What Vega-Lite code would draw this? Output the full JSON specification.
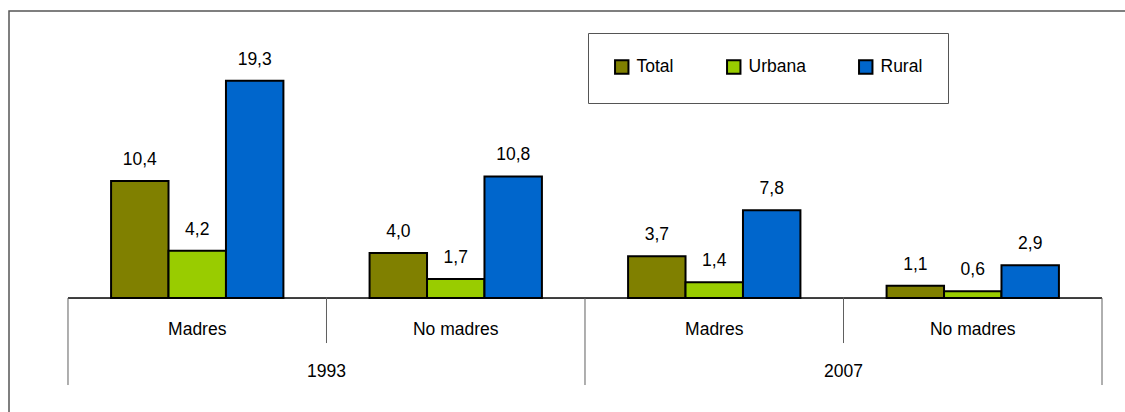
{
  "$schema": "https://vega.github.io/schema/vega-lite/v6.json",
  "autosize": {"type": "none"},
  "padding": {"left": 9, "top": 11, "right": 0, "bottom": 0},
  "width": 1140,
  "height": 420,
  "background": "white",
  "config": {
    "locale": {"number": {"decimal": ",", "thousands": ".", "grouping": [3], "currency": ["", " €"]}},
    "view": {"stroke": "#555555", "strokeWidth": 1.5},
    "font": "Liberation Sans",
    "text": {"font": "Liberation Sans", "fontSize": 17.5, "color": "black"}
  },
  "data": {
    "values": [
      {"year": "1993", "madre": "Madres", "grp": "1993 Madres", "serie": "Total", "value": 10.4},
      {"year": "1993", "madre": "Madres", "grp": "1993 Madres", "serie": "Urbana", "value": 4.2},
      {"year": "1993", "madre": "Madres", "grp": "1993 Madres", "serie": "Rural", "value": 19.3},
      {"year": "1993", "madre": "No madres", "grp": "1993 No madres", "serie": "Total", "value": 4.0},
      {"year": "1993", "madre": "No madres", "grp": "1993 No madres", "serie": "Urbana", "value": 1.7},
      {"year": "1993", "madre": "No madres", "grp": "1993 No madres", "serie": "Rural", "value": 10.8},
      {"year": "2007", "madre": "Madres", "grp": "2007 Madres", "serie": "Total", "value": 3.7},
      {"year": "2007", "madre": "Madres", "grp": "2007 Madres", "serie": "Urbana", "value": 1.4},
      {"year": "2007", "madre": "Madres", "grp": "2007 Madres", "serie": "Rural", "value": 7.8},
      {"year": "2007", "madre": "No madres", "grp": "2007 No madres", "serie": "Total", "value": 1.1},
      {"year": "2007", "madre": "No madres", "grp": "2007 No madres", "serie": "Urbana", "value": 0.6},
      {"year": "2007", "madre": "No madres", "grp": "2007 No madres", "serie": "Rural", "value": 2.9}
    ]
  },
  "encoding": {
    "x": {
      "field": "grp", "type": "nominal",
      "sort": ["1993 Madres", "1993 No madres", "2007 Madres", "2007 No madres"],
      "scale": {"paddingInner": 0, "paddingOuter": 0.205, "align": 0.5566},
      "axis": null
    }
  },
  "layer": [
    {
      "mark": {"type": "bar", "stroke": "black", "strokeWidth": 2},
      "encoding": {
        "xOffset": {"field": "serie", "type": "nominal", "sort": ["Total", "Urbana", "Rural"], "scale": {"paddingInner": 0, "paddingOuter": 0.75}},
        "y": {"field": "value", "type": "quantitative", "scale": {"domain": [-11.815, 25.5], "nice": false, "zero": false}, "axis": null},
        "y2": {"datum": 0},
        "color": {
          "field": "serie", "type": "nominal",
          "scale": {"domain": ["Total", "Urbana", "Rural"], "range": ["#808000", "#99CC00", "#0066CC"]},
          "legend": {
            "title": null, "orient": "none", "legendX": 579, "legendY": 22,
            "direction": "horizontal", "padding": 25, "columnPadding": 49,
            "strokeColor": "#555555", "fillColor": "white",
            "symbolType": "square", "symbolSize": 180, "symbolStrokeColor": "black", "symbolStrokeWidth": 2,
            "labelFont": "Liberation Sans", "labelFontSize": 17.5, "labelColor": "black", "labelOffset": 6
          }
        }
      }
    },
    {
      "mark": {"type": "text", "baseline": "alphabetic", "dy": -16},
      "encoding": {
        "xOffset": {"field": "serie", "type": "nominal", "sort": ["Total", "Urbana", "Rural"]},
        "y": {"field": "value", "type": "quantitative"},
        "text": {"field": "value", "type": "quantitative", "format": ".1f"}
      }
    },
    {
      "transform": [{"filter": "datum.serie === 'Total'"}],
      "mark": {"type": "bar", "fill": null, "stroke": "black", "strokeWidth": 1},
      "encoding": {"y": {"datum": 0}, "y2": {"datum": 0}}
    },
    {
      "transform": [{"filter": "datum.serie === 'Total' && datum.madre === 'Madres'"}],
      "mark": {"type": "rule", "color": "#606060", "strokeWidth": 1},
      "encoding": {"x": {"field": "grp", "type": "nominal", "bandPosition": 0, "sort": ["1993 Madres", "1993 No madres", "2007 Madres", "2007 No madres"]}, "y": {"datum": 0}, "y2": {"datum": -7.73}}
    },
    {
      "transform": [{"filter": "datum.serie === 'Total' && datum.madre === 'No madres'"}],
      "mark": {"type": "rule", "color": "#606060", "strokeWidth": 1},
      "encoding": {"x": {"field": "grp", "type": "nominal", "bandPosition": 0, "sort": ["1993 Madres", "1993 No madres", "2007 Madres", "2007 No madres"]}, "y": {"datum": 0}, "y2": {"datum": -4.0}}
    },
    {
      "transform": [{"filter": "datum.serie === 'Total' && datum.grp === '2007 No madres'"}],
      "mark": {"type": "rule", "color": "#606060", "strokeWidth": 1},
      "encoding": {"x": {"field": "grp", "type": "nominal", "bandPosition": 1, "sort": ["1993 Madres", "1993 No madres", "2007 Madres", "2007 No madres"]}, "y": {"datum": 0}, "y2": {"datum": -7.73}}
    },
    {
      "transform": [{"filter": "datum.serie === 'Total'"}],
      "mark": {"type": "text", "baseline": "middle"},
      "encoding": {"y": {"datum": -2.84}, "text": {"field": "madre"}}
    },
    {
      "transform": [{"filter": "datum.serie === 'Total' && datum.madre === 'No madres'"}],
      "mark": {"type": "text", "baseline": "middle"},
      "encoding": {"x": {"field": "grp", "type": "nominal", "bandPosition": 0, "sort": ["1993 Madres", "1993 No madres", "2007 Madres", "2007 No madres"]}, "y": {"datum": -6.6}, "text": {"field": "year"}}
    }
  ]
}
